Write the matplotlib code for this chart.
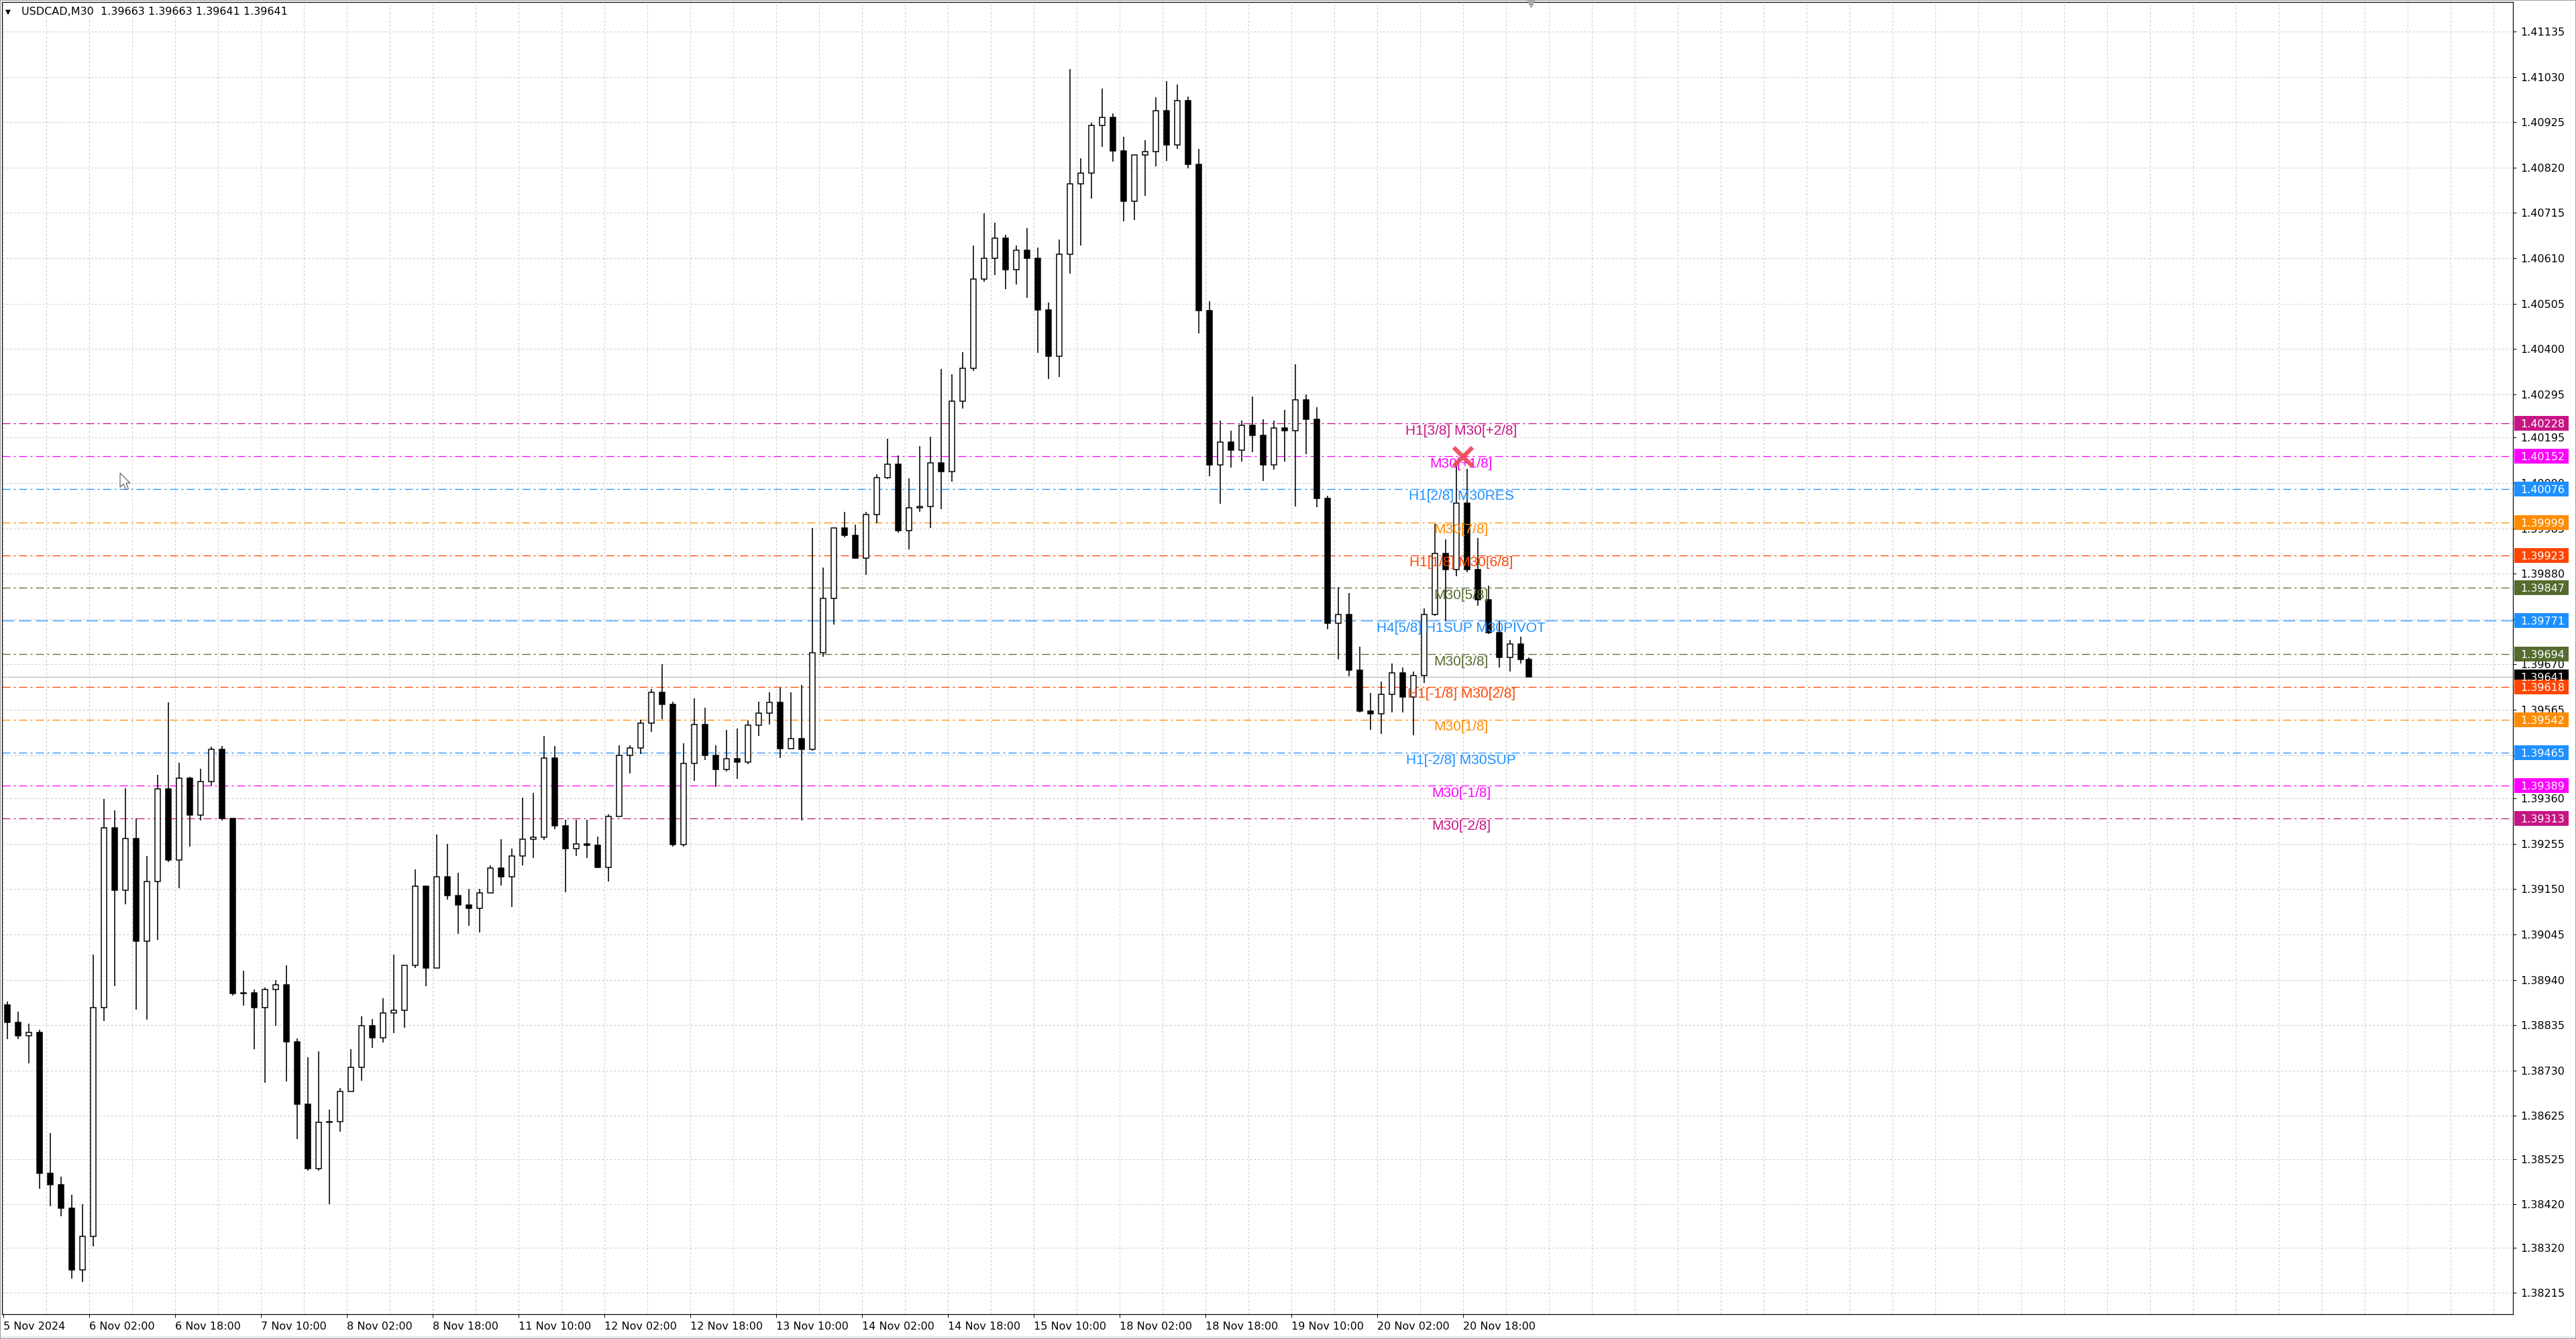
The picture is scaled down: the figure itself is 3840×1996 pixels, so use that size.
import numpy as np
import matplotlib
matplotlib.use('Agg')
import matplotlib.pyplot as plt
from matplotlib.patches import Rectangle, Polygon

## figure geometry (pixels)
W, H, DPI = 3840, 1996, 100
PX = 72 / DPI                      # points per pixel
AX_L, AX_R, AX_T, AX_B = 3, 3746, 3, 1959

## data
symbol = 'USDCAD,M30'
last_ohlc = [1.39663, 1.39663, 1.39641, 1.39641]
n_bars = 570                       # M30 bars on screen
bars_per_candle = 4                # drawn as 2-hour candles

first_open = 1.38882
close_2h = [
    1.38842, 1.38811, 1.38818, 1.38492, 1.38466, 1.38411, 1.38268, 1.38346, 1.38876, 1.39292,  # 0
    1.39147, 1.39267, 1.39030, 1.39168, 1.39382, 1.39217, 1.39407, 1.39322, 1.39399, 1.39474,  # 10
    1.39313, 1.38908, 1.38910, 1.38876, 1.38917, 1.38929, 1.38797, 1.38652, 1.38503, 1.38610,  # 20
    1.38612, 1.38682, 1.38738, 1.38833, 1.38806, 1.38863, 1.38870, 1.38973, 1.39156, 1.38968,  # 30
    1.39179, 1.39135, 1.39114, 1.39105, 1.39141, 1.39199, 1.39178, 1.39226, 1.39265, 1.39270,  # 40
    1.39454, 1.39297, 1.39244, 1.39255, 1.39251, 1.39200, 1.39319, 1.39460, 1.39477, 1.39534,  # 50
    1.39605, 1.39577, 1.39253, 1.39441, 1.39531, 1.39460, 1.39427, 1.39451, 1.39444, 1.39529,  # 60
    1.39557, 1.39582, 1.39475, 1.39499, 1.39473, 1.39697, 1.39823, 1.39986, 1.39969, 1.39916,  # 70
    1.40017, 1.40103, 1.40134, 1.39980, 1.40033, 1.40036, 1.40136, 1.40116, 1.40280, 1.40356,  # 80
    1.40562, 1.40610, 1.40656, 1.40583, 1.40629, 1.40610, 1.40491, 1.40384, 1.40619, 1.40782,  # 90
    1.40808, 1.40917, 1.40936, 1.40858, 1.40742, 1.40849, 1.40857, 1.40951, 1.40873, 1.40975,  # 100
    1.40828, 1.40489, 1.40132, 1.40185, 1.40166, 1.40224, 1.40200, 1.40132, 1.40217, 1.40211,  # 110
    1.40282, 1.40238, 1.40055, 1.39765, 1.39785, 1.39657, 1.39562, 1.39556, 1.39601, 1.39650,  # 120
    1.39595, 1.39645, 1.39785, 1.39927, 1.39889, 1.40043, 1.39889, 1.39820, 1.39743, 1.39687,  # 130
    1.39717, 1.39681, 1.39641]                                                                 # 140
high_2h = [
    1.38890, 1.38867, 1.38839, 1.38825, 1.38586, 1.38484, 1.38443, 1.38420, 1.38998, 1.39359,
    1.39332, 1.39384, 1.39313, 1.39226, 1.39414, 1.39582, 1.39442, 1.39410, 1.39428, 1.39479,
    1.39481, 1.39313, 1.38961, 1.38917, 1.38922, 1.38940, 1.38974, 1.38805, 1.38761, 1.38774,
    1.38640, 1.38690, 1.38779, 1.38855, 1.38850, 1.38897, 1.38998, 1.38973, 1.39196, 1.39158,
    1.39276, 1.39255, 1.39188, 1.39150, 1.39150, 1.39205, 1.39265, 1.39244, 1.39361, 1.39373,
    1.39504, 1.39481, 1.39310, 1.39310, 1.39310, 1.39272, 1.39323, 1.39483, 1.39483, 1.39542,
    1.39614, 1.39670, 1.39583, 1.39488, 1.39592, 1.39570, 1.39483, 1.39518, 1.39522, 1.39540,
    1.39583, 1.39605, 1.39616, 1.39605, 1.39623, 1.39986, 1.39894, 1.39986, 1.40023, 1.39993,
    1.40023, 1.40110, 1.40193, 1.40154, 1.40101, 1.40175, 1.40197, 1.40354, 1.40341, 1.40393,
    1.40640, 1.40714, 1.40692, 1.40665, 1.40639, 1.40680, 1.40635, 1.40508, 1.40653, 1.41048,
    1.40842, 1.40924, 1.41003, 1.40945, 1.40891, 1.40849, 1.40883, 1.40983, 1.41020, 1.41013,
    1.40984, 1.40864, 1.40511, 1.40234, 1.40211, 1.40234, 1.40290, 1.40237, 1.40234, 1.40260,
    1.40365, 1.40295, 1.40265, 1.40060, 1.39850, 1.39835, 1.39711, 1.39604, 1.39631, 1.39672,
    1.39663, 1.39654, 1.39800, 1.39996, 1.39960, 1.40130, 1.40123, 1.39963, 1.39853, 1.39770,
    1.39726, 1.39734, 1.39687]
low_2h = [
    1.38802, 1.38802, 1.38747, 1.38457, 1.38416, 1.38392, 1.38249, 1.38240, 1.38323, 1.38844,
    1.38926, 1.39115, 1.38871, 1.38848, 1.39032, 1.39212, 1.39152, 1.39249, 1.39309, 1.39389,
    1.39309, 1.38903, 1.38880, 1.38779, 1.38701, 1.38834, 1.38705, 1.38572, 1.38498, 1.38498,
    1.38420, 1.38589, 1.38682, 1.38707, 1.38783, 1.38795, 1.38817, 1.38829, 1.38968, 1.38926,
    1.38968, 1.39125, 1.39047, 1.39065, 1.39050, 1.39141, 1.39158, 1.39108, 1.39205, 1.39222,
    1.39264, 1.39289, 1.39143, 1.39226, 1.39222, 1.39199, 1.39167, 1.39319, 1.39418, 1.39462,
    1.39514, 1.39544, 1.39248, 1.39248, 1.39401, 1.39448, 1.39387, 1.39422, 1.39405, 1.39440,
    1.39505, 1.39531, 1.39453, 1.39475, 1.39309, 1.39470, 1.39688, 1.39762, 1.39964, 1.39914,
    1.39877, 1.39997, 1.40100, 1.39975, 1.39936, 1.40023, 1.39986, 1.40030, 1.40093, 1.40262,
    1.40350, 1.40556, 1.40571, 1.40538, 1.40549, 1.40519, 1.40391, 1.40331, 1.40335, 1.40575,
    1.40640, 1.40748, 1.40868, 1.40834, 1.40695, 1.40699, 1.40755, 1.40823, 1.40836, 1.40863,
    1.40819, 1.40436, 1.40106, 1.40042, 1.40126, 1.40140, 1.40162, 1.40095, 1.40121, 1.40140,
    1.40035, 1.40156, 1.40034, 1.39752, 1.39681, 1.39642, 1.39559, 1.39518, 1.39509, 1.39559,
    1.39559, 1.39506, 1.39628, 1.39782, 1.39770, 1.39874, 1.39883, 1.39806, 1.39740, 1.39663,
    1.39654, 1.39672, 1.39641]

date_ticks = [0, 32, 64, 96, 128, 160, 192, 224, 256, 288, 320, 352, 384, 416, 448, 480, 512, 544]
date_labels = ['5 Nov 2024', '6 Nov 02:00', '6 Nov 18:00', '7 Nov 10:00', '8 Nov 02:00',
               '8 Nov 18:00', '11 Nov 10:00', '12 Nov 02:00', '12 Nov 18:00', '13 Nov 10:00',
               '14 Nov 02:00', '14 Nov 18:00', '15 Nov 10:00', '18 Nov 02:00', '18 Nov 18:00',
               '19 Nov 10:00', '20 Nov 02:00', '20 Nov 18:00']

price_ticks = [1.41135, 1.41030, 1.40925, 1.40820, 1.40715, 1.40610, 1.40505, 1.40400,
               1.40295, 1.40195, 1.40090, 1.39985, 1.39880, 1.39775, 1.39670, 1.39565,
               1.39460, 1.39360, 1.39255, 1.39150, 1.39045, 1.38940, 1.38835, 1.38730,
               1.38625, 1.38525, 1.38420, 1.38320, 1.38215]

level_prices = [1.40228, 1.40152, 1.40076, 1.39999, 1.39923, 1.39847, 1.39771,
                1.39694, 1.39618, 1.39542, 1.39465, 1.39389, 1.39313]
level_names = ['H1[3/8] M30[+2/8]', 'M30[+1/8]', 'H1[2/8] M30RES', 'M30[7/8]',
               'H1[1/8] M30[6/8]', 'M30[5/8]', 'H4[5/8] H1SUP M30PIVOT', 'M30[3/8]',
               'H1[-1/8] M30[2/8]', 'M30[1/8]', 'H1[-2/8] M30SUP', 'M30[-1/8]', 'M30[-2/8]']
level_colors = ['#C71585', '#FF00FF', '#1E90FF', '#FF8C00', '#FF4500', '#556B2F', '#1E90FF',
                '#556B2F', '#FF4500', '#FF8C00', '#1E90FF', '#FF00FF', '#C71585']
current_price = 1.39641
mark_bar, mark_price = 544, 1.40150

## setup
plt.rcParams['font.family'] = ['DejaVu Sans']
plt.rcParams['lines.scale_dashes'] = False

fig = plt.figure(figsize=(W / DPI, H / DPI), dpi=DPI, facecolor='white')
ax = fig.add_axes([AX_L / W, (H - AX_B) / H, (AX_R - AX_L) / W, (AX_B - AX_T) / H])

px_per_bar = 4
x_lo = -0.5
x_hi = x_lo + (AX_R - AX_L) / px_per_bar
px_per_price = 64400
y_hi = 1.41135 + (47 - AX_T) / px_per_price
y_lo = 1.41135 - (AX_B - 47) / px_per_price
ax.set_xlim(x_lo, x_hi)
ax.set_ylim(y_lo, y_hi)
dp = 1 / px_per_price             # price per pixel

# grid
grid_kw = dict(color='#C8C8C8', lw=1 * PX, ls=(0, (3 * PX, 3 * PX)))
ax.set_axisbelow(True)
ax.set_xticks(date_ticks)
ax.set_xticklabels(date_labels)
ax.set_xticks([b for b in range(16, int(x_hi), 16) if b not in date_ticks], minor=True)
ax.grid(True, which='both', axis='x', **grid_kw)
ax.yaxis.tick_right()
ax.set_yticks(price_ticks)
ax.set_yticklabels([f'{p:.5f}' for p in price_ticks])
ax.grid(True, which='major', axis='y', **grid_kw)

ax.tick_params(axis='x', which='major', direction='out', length=5 * PX, width=1 * PX,
               pad=6 * PX, labelsize=11.5)
ax.tick_params(axis='x', which='minor', length=0)
ax.tick_params(axis='y', direction='out', length=5 * PX, width=1 * PX,
               pad=6 * PX, labelsize=11.5)
for lbl in ax.get_xticklabels():
    lbl.set_horizontalalignment('left')
for sp in ax.spines.values():
    sp.set_color('black')
    sp.set_linewidth(1.2 * PX)

## level lines and labels
dashdot = (0, (12 * PX, 5 * PX, 3 * PX, 5 * PX))
longdash = (0, (18 * PX, 7 * PX))
for p, name, col in zip(level_prices, level_names, level_colors):
    ls = longdash if 'PIVOT' in name else dashdot
    ax.axhline(p, color=col, lw=1.3 * PX, ls=ls, zorder=1.5)
    ax.text(543.3, p - 11 * dp, name, color=col, ha='center', va='center',
            fontsize=15, family=['Liberation Sans', 'DejaVu Sans'], zorder=5)
ax.axhline(current_price, color='#C0C0C0', lw=1.4 * PX, zorder=1.6)

## candles
opens = [first_open] + close_2h[:-1]
o, c = np.array(opens), np.array(close_2h)
hi, lo = np.array(high_2h), np.array(low_2h)
starts = np.arange(0, n_bars, bars_per_candle)
ends = np.minimum(starts + bars_per_candle - 1, n_bars - 1)
xc = (starts + ends) / 2
ax.vlines(xc, lo, hi, color='black', lw=1.6 * PX, zorder=3)
body_h = np.maximum(np.abs(c - o), 1.2 * dp)
face = ['white' if cc >= oo else 'black' for oo, cc in zip(o, c)]
ax.bar(xc, body_h, bottom=np.minimum(o, c), width=2.2, color=face,
       edgecolor='black', linewidth=1.5 * PX, zorder=3.1)

# extreme mark
ax.plot([mark_bar], [mark_price], marker='x', ms=20, mew=4.6, color='#EE3B4B',
        alpha=0.85, zorder=6)

## price boxes on the right axis
ytr = ax.get_yaxis_transform()
box_x0 = (3748 - AX_L) / (AX_R - AX_L)
box_w = (3829 - 3748) / (AX_R - AX_L)
txt_x = (3757 - AX_L) / (AX_R - AX_L)
boxes = list(zip(level_prices[:8], level_colors[:8])) + [(current_price, 'black')] \
    + list(zip(level_prices[8:], level_colors[8:]))
for p, col in boxes:
    ax.add_patch(Rectangle((box_x0, p - 11 * dp), box_w, 22 * dp, transform=ytr,
                           facecolor=col, edgecolor='none', clip_on=False, zorder=10))
    ax.text(txt_x, p, f'{p:.5f}', transform=ytr, color='white', fontsize=11.5,
            ha='left', va='center_baseline', clip_on=False, zorder=11)

## window decorations
fig.text(8 / W, 1 - 18 / H, '\u25bc', fontsize=7.5, va='center', ha='left')
fig.text(32 / W, 1 - 18 / H, f'{symbol}  ' + ' '.join(f'{v:.5f}' for v in last_ohlc),
         fontsize=11.5, va='center', ha='left')
fig.lines.append(plt.Line2D([2282 / W], [1 - 5 / H], marker='v', ms=9, color='#A8A8A8',
                            transform=fig.transFigure))

# mouse pointer
tip = np.array([179, 705])
arrow = np.array([[0, 0], [0, 17], [4, 13], [7, 20], [10, 19], [7, 12], [12, 12]]) * 1.25 + tip
fig.patches.append(Polygon(np.column_stack([arrow[:, 0] / W, 1 - arrow[:, 1] / H]),
                           closed=True, facecolor='white', edgecolor='#606060',
                           lw=1.2 * PX, transform=fig.transFigure))

fig.patches.append(Rectangle((0, 0), 1, 4 / H, transform=fig.transFigure,
                             facecolor='#E6E6E6', edgecolor='none'))
fig.patches.append(Rectangle((0, 0), 1, 1, transform=fig.transFigure, fill=False,
                             edgecolor='#A0A0A0', lw=2 * PX))

fig.savefig('out.png', dpi=DPI, facecolor='white')
